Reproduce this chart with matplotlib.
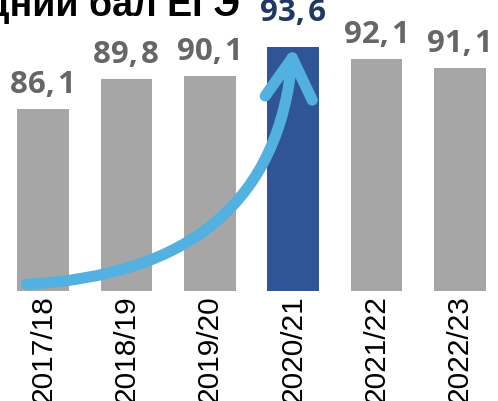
import matplotlib
matplotlib.use("Agg")
import matplotlib.pyplot as plt

title = "Средний бал ЕГЭ"
years = ["2017/18", "2018/19", "2019/20", "2020/21", "2021/22", "2022/23"]
scores = [86.1, 89.8, 90.1, 93.6, 92.1, 91.1]
highlight = 3

gray = "#a6a6a6"
blue = "#2f5597"
label_gray = "#666666"
label_blue = "#1f3864"
arrow_col = "#52b1e0"

fig = plt.figure(figsize=(4.98, 4.01), dpi=100)
ax = fig.add_axes([0, 0.2743, 1, 0.7257])
x = list(range(len(years)))
colors = [blue if i == highlight else gray for i in x]
ax.bar(x, scores, width=0.62, color=colors, bottom=0)
ax.set_xlim(-0.516, 5.456)
ax.set_ylim(64.2, 99.26)
for s in ax.spines.values():
    s.set_visible(False)
ax.set_yticks([])
ax.set_xticks(x)
ax.set_xticklabels(years, rotation=90, fontsize=21.5, family="Liberation Sans", va="top")
ax.tick_params(axis="x", length=0, pad=3)

for i, v in enumerate(scores):
    txt = f"{v:.1f}".replace(".", ",\u200a")
    off = 18.7 if i == highlight else 11.5
    ax.annotate(txt, xy=(i, v), xytext=(0, off), textcoords="offset points",
                ha="center", va="baseline", fontsize=22.5, fontweight="bold",
                family=["Open Sans", "DejaVu Sans"],
                color=label_blue if i == highlight else label_gray)

ax.annotate("", xy=(highlight, scores[highlight]), xytext=(-0.2, 65.0),
            arrowprops=dict(arrowstyle="->,head_length=1.45,head_width=0.85",
                            connectionstyle="angle3,angleA=3,angleB=85",
                            lw=8, color=arrow_col, capstyle="round",
                            joinstyle="round", shrinkA=0, shrinkB=0,
                            mutation_scale=20))

fig.text(240 / 498, 1 - 16 / 401, title, ha="right", va="baseline",
         fontsize=27, fontweight="bold", family="Liberation Sans", color="black")

fig.savefig("out.png", dpi=100)
